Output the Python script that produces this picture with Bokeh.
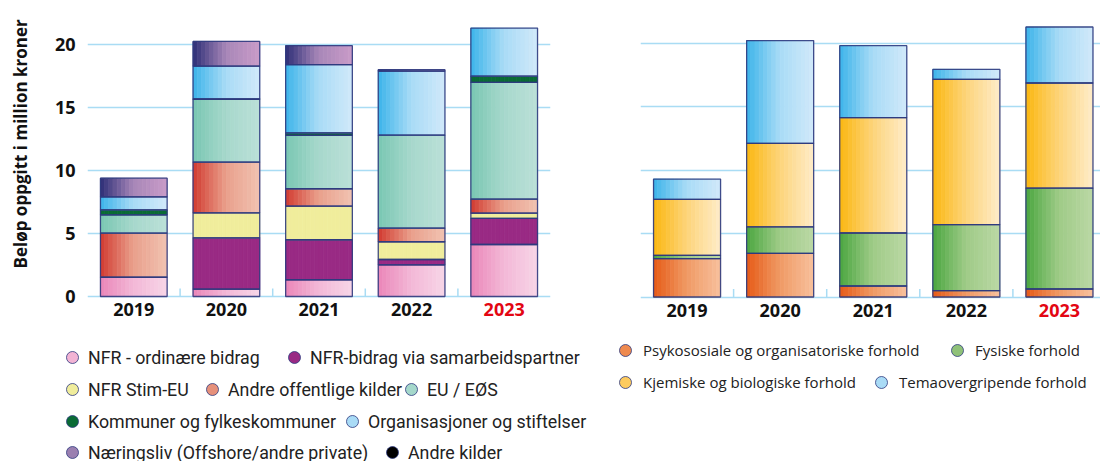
import numpy as np
from bokeh.plotting import figure
from bokeh.models import (Range1d, FixedTicker, ColumnDataSource, Legend, LegendItem)
from bokeh.layouts import column, row
from bokeh.core.properties import value
from bokeh.embed import file_html
from bokeh.resources import INLINE

# ---------------- data ----------------
years = ["2019", "2020", "2021", "2022", "2023"]
year_colors = ["#111111", "#111111", "#111111", "#111111", "#e30613"]
y_ticks = [0, 5, 10, 15, 20]
y_title = "Beløp oppgitt i million kroner"

# left chart: funding sources (million NOK)
nfr_ordinaere = [1.53, 0.58, 1.33, 2.52, 4.13]
nfr_samarbeid = [0.00, 4.08, 3.18, 0.42, 2.07]
nfr_stim_eu = [0.00, 1.99, 2.67, 1.41, 0.42]
andre_offentlige = [3.50, 4.03, 1.38, 1.08, 1.11]
eu_eos = [1.46, 4.98, 4.24, 7.39, 9.28]
kommuner = [0.40, 0.05, 0.20, 0.00, 0.50]
organisasjoner = [1.03, 2.60, 5.42, 5.09, 3.82]
naeringsliv = [1.48, 1.96, 1.51, 0.11, 0.00]
andre_kilder = [0.00, 0.00, 0.00, 0.00, 0.00]

# right chart: themes (million NOK)
psykososiale = [3.03, 3.45, 0.87, 0.50, 0.63]
fysiske = [0.26, 2.08, 4.18, 5.21, 7.97]
kjemiske = [4.42, 6.60, 9.11, 11.47, 8.29]
temaovergripende = [1.60, 8.11, 5.68, 0.79, 4.42]

left_labels = ["NFR - ordinære bidrag", "NFR-bidrag via samarbeidspartner", "NFR Stim-EU",
               "Andre offentlige kilder", "EU / EØS", "Kommuner og fylkeskommuner",
               "Organisasjoner og stiftelser", "Næringsliv (Offshore/andre private)",
               "Andre kilder"]
right_labels = ["Psykososiale og organisatoriske forhold", "Fysiske forhold",
                "Kjemiske og biologiske forhold", "Temaovergripende forhold"]

# ---------------- styles ----------------
left_grad = [("#ea86b8", "#f3b8d7", "#f7d5e7"),
             ("#992a84", "#992a84", "#992a84"),
             ("#f0ed9c", "#f0ed9c", "#f0ed9c"),
             ("#d23a30", "#e9a08c", "#f1c2b1"),
             ("#79c7b2", "#a7d8cc", "#bbe0d8"),
             ("#0a6b35", "#0a6b35", "#0a6b35"),
             ("#3bb4ea", "#a9dbf6", "#d0e9fa"),
             ("#2d2e77", "#a887b8", "#c99bc8"),
             ("#000000", "#000000", "#000000")]
left_legend_colors = ["#f2b3d4", "#992a84", "#f0ed9c", "#e6907a", "#a5d8cb",
                      "#0a6b35", "#a9dbf6", "#9a7fb0", "#000000"]
right_grad = [("#e65a17", "#f09a64", "#f7c09d"),
              ("#4aa640", "#9fcb87", "#bbd8a5"),
              ("#fbb70f", "#fdd47a", "#feecc9"),
              ("#3bb4ea", "#a9dbf6", "#d0e9fa")]
right_legend_colors = ["#ef8a4e", "#8fc178", "#fdcb5e", "#a9dbf6"]

GRID = "#a9dcf4"
OUTLINE = "#2d3a7e"
BAR_W = 0.72
NSTRIP = 16
CHART_H = 328
LEG_H = 133
TITLE_W = 44


def hex2rgb(h):
    h = h.lstrip("#")
    return np.array([int(h[i:i + 2], 16) for i in (0, 2, 4)], dtype=float)


def grad_color(cols, t):
    c0, c1, c2 = (hex2rgb(c) for c in cols)
    if t < 0.5:
        c = c0 + (c1 - c0) * (t / 0.5)
    else:
        c = c1 + (c2 - c1) * ((t - 0.5) / 0.5)
    return "#%02x%02x%02x" % tuple(int(round(v)) for v in c)


def stacked_gradient(p, series_vals, grads):
    strips = dict(x=[], w=[], b=[], t=[], c=[])
    outl = dict(x=[], b=[], t=[])
    base = np.zeros(len(years))
    for vals, cols in zip(series_vals, grads):
        vals = np.array(vals, dtype=float)
        top = base + vals
        for i in range(len(years)):
            if vals[i] <= 0:
                continue
            xc = i + 0.5
            for k in range(NSTRIP):
                t = (k + 0.5) / NSTRIP
                strips["x"].append(xc - BAR_W / 2 + t * BAR_W)
                strips["w"].append(BAR_W / NSTRIP)
                strips["b"].append(base[i])
                strips["t"].append(top[i])
                strips["c"].append(grad_color(cols, t))
            outl["x"].append(xc)
            outl["b"].append(base[i])
            outl["t"].append(top[i])
        base = top
    p.vbar(x="x", width="w", bottom="b", top="t", fill_color="c", line_color="c",
           line_width=0.8, source=ColumnDataSource(strips))
    p.vbar(x="x", width=BAR_W, bottom="b", top="t", fill_color=None,
           line_color=OUTLINE, line_width=1.3, line_alpha=0.9,
           source=ColumnDataSource(outl))


def chart(width, border_left, border_right, x_end, zero_px, px_per_unit,
          series_vals, grads, show_y):
    y_start = -(CHART_H - zero_px) / px_per_unit
    y_end = zero_px / px_per_unit
    p = figure(width=width, height=CHART_H, x_range=Range1d(0, x_end),
               y_range=Range1d(y_start, y_end),
               toolbar_location=None, output_backend="svg", x_axis_location=None,
               min_border_left=border_left, min_border_right=border_right,
               min_border_top=0, min_border_bottom=0)
    p.outline_line_color = None
    p.background_fill_color = None
    p.border_fill_color = None
    p.xgrid.grid_line_color = None
    p.ygrid.ticker = FixedTicker(ticks=y_ticks)
    p.ygrid.grid_line_color = GRID
    p.ygrid.grid_line_width = 1.5
    ya = p.yaxis[0]
    ya.ticker = FixedTicker(ticks=y_ticks)
    ya.axis_line_color = None
    ya.major_tick_line_color = None
    ya.minor_tick_line_color = None
    ya.major_label_standoff = 6
    ya.major_label_text_font = "Open Sans"
    ya.major_label_text_font_style = "bold"
    ya.major_label_text_font_size = "18px"
    ya.major_label_text_color = "#111111"
    if not show_y:
        ya.visible = False
    # small separators between categories, rising from the baseline
    sep = list(range(1, len(years)))
    p.segment(x0=sep, y0=[0] * len(sep), x1=sep, y1=[8 / px_per_unit] * len(sep),
              line_color=GRID, line_width=1.5)
    stacked_gradient(p, series_vals, grads)
    src = ColumnDataSource(dict(x=[i + 0.5 for i in range(len(years))],
                                y=[-13 / px_per_unit] * len(years),
                                year=years, color=year_colors))
    p.text(x="x", y="y", text="year", text_color="color", source=src,
           text_align="center", text_baseline="middle",
           text_font=value("Open Sans"), text_font_style="bold", text_font_size="18px")
    return p


# y-axis title panel
title_fig = figure(width=TITLE_W, height=CHART_H, x_range=Range1d(0, TITLE_W),
                   y_range=Range1d(0, CHART_H), toolbar_location=None,
                   output_backend="svg", x_axis_location=None, y_axis_location=None,
                   min_border=0)
title_fig.grid.visible = False
title_fig.outline_line_color = None
title_fig.text(x=[20], y=[CHART_H - 268], text=[y_title], angle=np.pi / 2,
               text_align="left", text_baseline="middle", text_font=value("Open Sans"),
               text_font_style="bold", text_font_size="17px", text_color="#111111")

left = chart(600 - TITLE_W, 87 - TITLE_W, 50, 5.0, 296, 12.585,
             [nfr_ordinaere, nfr_samarbeid, nfr_stim_eu, andre_offentlige, eu_eos,
              kommuner, organisasjoner, naeringsliv, andre_kilder], left_grad, True)

right = chart(500, 40, 0, 460 / 93.1, 296.5, 12.67,
              [psykososiale, fysiske, kjemiske, temaovergripende], right_grad, False)


def legend_fig(width, height, labels, colors, positions, font, size, glyph, standoff):
    f = figure(width=width, height=height, x_range=Range1d(0, 1), y_range=Range1d(0, 1),
               toolbar_location=None, output_backend="svg", min_border=0,
               x_axis_location=None, y_axis_location=None)
    f.grid.visible = False
    f.outline_line_color = None
    for lab, col, (px, cy) in zip(labels, colors, positions):
        # a point outside the visible range: only its legend swatch is seen
        r = f.scatter(x=[5], y=[5], marker="circle", size=12, fill_color=col,
                      line_color=OUTLINE, line_width=1, line_alpha=0.8)
        leg = Legend(items=[LegendItem(label=lab, renderers=[r])],
                     location=(px - glyph / 2, height - cy - glyph / 2),
                     orientation="horizontal", glyph_width=glyph, glyph_height=glyph,
                     label_height=glyph, label_standoff=standoff, padding=0, margin=0,
                     spacing=0, border_line_color=None, background_fill_alpha=0,
                     label_text_font=font, label_text_font_size=size,
                     label_text_color="#222222")
        f.add_layout(leg, "center")
    return f


# legend marker centres (canvas px) for each item
left_pos = [(72, 29), (294, 29),
            (72, 61), (212, 61), (411, 61),
            (72, 93), (352, 93),
            (72, 124), (392, 124)]
right_pos = [(25, 22), (357, 22), (25, 54), (281, 54)]

left_leg = legend_fig(600, LEG_H, left_labels, left_legend_colors, left_pos,
                      "Roboto", "17.8px", 30, 1)
right_leg = legend_fig(500, LEG_H, right_labels, right_legend_colors, right_pos,
                       "Open Sans", "15px", 30, 3)

layout = column(row(title_fig, left, right), row(left_leg, right_leg))
open("out.html", "w").write(file_html(layout, INLINE))
